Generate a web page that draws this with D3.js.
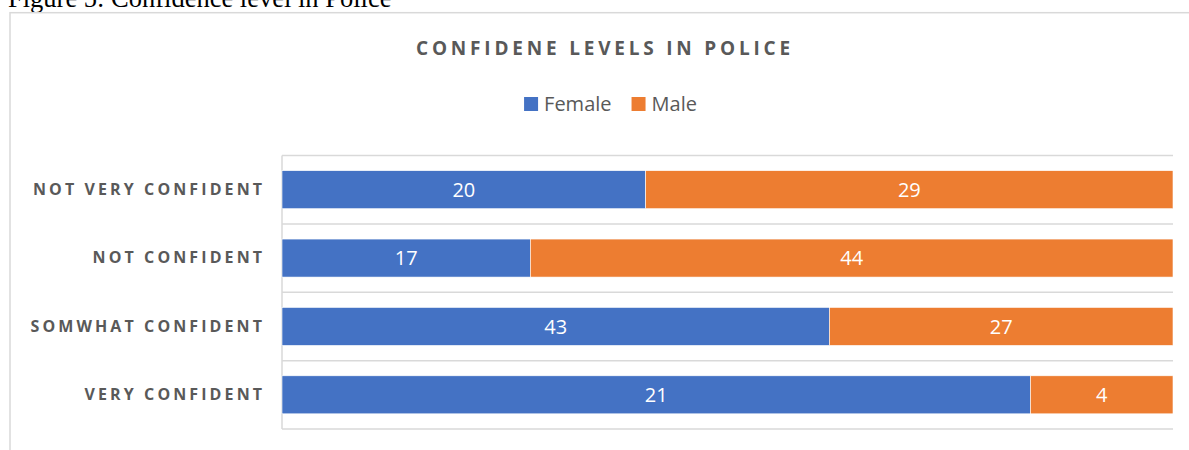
<!DOCTYPE html>
<html>
<head>
<meta charset="utf-8">
<script src="https://cdn.jsdelivr.net/npm/d3@7"></script>
<style>
  body { margin: 0; background: #fff; }
  svg { display: block; }
</style>
</head>
<body>
<div id="chart"></div>
<script>
var categories = ["NOT VERY CONFIDENT", "NOT CONFIDENT", "SOMWHAT CONFIDENT", "VERY CONFIDENT"];
var seriesNames = ["Female", "Male"];
var female = [20, 17, 43, 21];
var male = [29, 44, 27, 4];
var colors = ["#4472C4", "#ED7D31"];

var svgWidth = 1189;
var svgHeight = 450;
var textColor = "#595959";
var lineColor = "#d9d9d9";
var font = "'Open Sans', sans-serif";

var svg = d3.select("#chart")
  .append("svg")
  .attr("width", svgWidth)
  .attr("height", svgHeight);

// caption above the chart frame (cut off at the top, as in the source page)
svg.append("text")
  .attr("x", 8)
  .attr("y", 6.5)
  .attr("font-family", "'Liberation Serif', 'Times New Roman', serif")
  .attr("font-size", "26.5px")
  .attr("fill", "#000")
  .text("Figure 5: Confidence level in Police");

// chart frame
svg.append("rect")
  .attr("x", 10)
  .attr("y", 12.7)
  .attr("width", svgWidth + 20)
  .attr("height", svgHeight + 20)
  .attr("fill", "none")
  .attr("stroke", lineColor)
  .attr("stroke-width", 1.5);

// title
svg.append("text")
  .attr("x", 605)
  .attr("y", 55)
  .attr("text-anchor", "middle")
  .attr("font-family", font)
  .attr("font-weight", "bold")
  .attr("font-size", "19px")
  .attr("letter-spacing", "3.8px")
  .attr("fill", textColor)
  .text("CONFIDENE LEVELS IN POLICE");

// legend
var legend = svg.append("g");
var lx = 0;
seriesNames.forEach(function(name, i) {
  var item = legend.append("g").attr("transform", `translate(${lx}, 0)`);
  item.append("rect")
    .attr("x", 0)
    .attr("y", 97)
    .attr("width", 14)
    .attr("height", 14)
    .attr("fill", colors[i]);
  var t = item.append("text")
    .attr("x", 20)
    .attr("y", 111)
    .attr("font-family", font)
    .attr("font-size", "20px")
    .attr("fill", textColor)
    .text(name);
  lx += 20 + t.node().getComputedTextLength() + 20;
});
var legendWidth = lx - 20;
legend.attr("transform", `translate(${610.5 - legendWidth / 2}, 0)`);

// data table for the stack
var table = categories.map(function(c, i) {
  return { category: c, Female: female[i], Male: male[i] };
});

var stacked = d3.stack()
  .keys(seriesNames)
  .offset(d3.stackOffsetExpand)(table);

var xScale = d3.scaleLinear()
  .domain([0, 1])
  .range([282, 1173]);

var yScale = d3.scaleBand()
  .domain(categories)
  .range([155.5, 429])
  .paddingInner(0.444)
  .paddingOuter(0.222);

var step = yScale.step();
var gap = step - yScale.bandwidth();

// horizontal gridlines at category boundaries
var bounds = categories.map(function(c) { return yScale(c) - gap / 2; });
bounds.push(yScale(categories[categories.length - 1]) + yScale.bandwidth() + gap / 2);

svg.append("g")
  .selectAll("line")
  .data(bounds)
  .enter()
  .append("line")
  .attr("x1", xScale(0))
  .attr("x2", xScale(1))
  .attr("y1", d => d)
  .attr("y2", d => d)
  .attr("stroke", lineColor)
  .attr("stroke-width", 1.5);

svg.append("line")
  .attr("x1", xScale(0))
  .attr("x2", xScale(0))
  .attr("y1", bounds[0])
  .attr("y2", bounds[bounds.length - 1])
  .attr("stroke", lineColor)
  .attr("stroke-width", 1.5);

// bars
var groups = svg.append("g")
  .selectAll("g")
  .data(stacked)
  .enter()
  .append("g")
  .attr("fill", (d, i) => colors[i]);

groups.selectAll("rect")
  .data(d => d)
  .enter()
  .append("rect")
  .attr("x", d => xScale(d[0]))
  .attr("y", d => yScale(d.data.category))
  .attr("width", d => xScale(d[1]) - xScale(d[0]))
  .attr("height", yScale.bandwidth())
  .attr("stroke", "#fff")
  .attr("stroke-width", 0.6);

// value labels
stacked.forEach(function(series) {
  svg.append("g")
    .selectAll("text")
    .data(series)
    .enter()
    .append("text")
    .attr("x", d => (xScale(d[0]) + xScale(d[1])) / 2)
    .attr("y", d => yScale(d.data.category) + yScale.bandwidth() / 2)
    .attr("dy", "0.36em")
    .attr("text-anchor", "middle")
    .attr("font-family", font)
    .attr("font-size", "20px")
    .attr("fill", "#fff")
    .text(d => d.data[series.key]);
});

// category labels
var yAxis = d3.axisLeft(yScale).tickSize(0).tickPadding(0);
var axisG = svg.append("g")
  .attr("transform", "translate(262, 0)")
  .call(yAxis);
axisG.select(".domain").remove();
axisG.selectAll("text")
  .attr("font-family", font)
  .attr("font-weight", "bold")
  .attr("font-size", "16px")
  .attr("letter-spacing", "3.1px")
  .attr("fill", textColor)
  .attr("dx", "3.1px");
</script>
</body>
</html>
